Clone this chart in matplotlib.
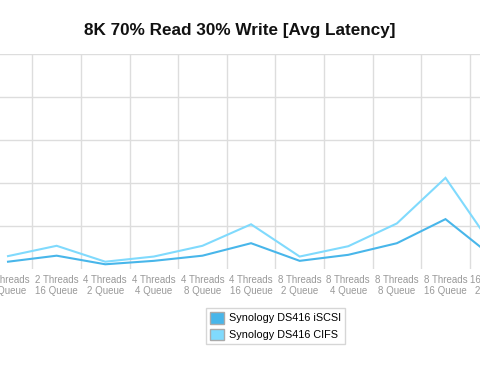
import numpy as np
import matplotlib
matplotlib.use("Agg")
import matplotlib.pyplot as plt
from matplotlib.patches import Patch

# categories visible in the (cropped) chart
categories = ["2 Threads\n8 Queue", "2 Threads\n16 Queue", "4 Threads\n2 Queue",
              "4 Threads\n4 Queue", "4 Threads\n8 Queue", "4 Threads\n16 Queue",
              "8 Threads\n2 Queue", "8 Threads\n4 Queue", "8 Threads\n8 Queue",
              "8 Threads\n16 Queue", "16 Threads\n2 Queue"]

# avg latency (ms)
iscsi = [1.7, 3.1, 1.1, 1.9, 3.1, 6.0, 1.9, 3.3, 6.0, 11.6, 2.6]
cifs = [3.0, 5.4, 1.7, 2.9, 5.4, 10.4, 2.9, 5.3, 10.6, 21.2, 4.8]

c_iscsi = "#48b6ea"
c_cifs = "#80dafd"

plt.rcParams['font.family'] = ['Liberation Sans', 'DejaVu Sans']

fig = plt.figure(figsize=(4.8, 3.71), dpi=100)
ax = fig.add_axes([0, 0.2749, 1, 0.5795])

x = np.arange(len(categories))
ax.plot(x, iscsi, color=c_iscsi, lw=1.5, solid_joinstyle='miter')
ax.plot(x, cifs, color=c_cifs, lw=1.5, solid_joinstyle='miter')

ax.set_xticks(x)
ax.set_xticklabels([])
ax.set_xticks(x + 0.5, minor=True)
ax.set_yticks([10, 20, 30, 40, 50])
ax.set_yticklabels([])
# the chart is cut off on both sides
ax.set_xlim(-0.165, 9.71)
ax.set_ylim(0, 50)
ax.tick_params(axis='both', which='both', length=0)
ax.grid(True, axis='y', color="#dddddd", lw=1)
ax.grid(True, axis='x', which='minor', color="#dddddd", lw=1)
for s in ax.spines.values():
    s.set_visible(False)

# category labels drawn by hand so the ones at the edges get cut like the original
for i, lab in enumerate(categories):
    ax.annotate(lab, xy=(i, 0), xycoords=ax.get_xaxis_transform(),
                xytext=(0, -4), textcoords='offset points', ha='center', va='top',
                fontsize=7.0, color="#999999", linespacing=1.15, annotation_clip=False)

fig.text(0.5, 0.917, "8K 70% Read 30% Write [Avg Latency]", ha='center', va='center',
         fontsize=12.3, fontweight='bold', color="#111111")

handles = [Patch(facecolor=c_iscsi, edgecolor="#aaaaaa", label="Synology DS416 iSCSI"),
           Patch(facecolor=c_cifs, edgecolor="#aaaaaa", label="Synology DS416 CIFS")]
fig.legend(handles=handles, loc='center', bbox_to_anchor=(0.574, 0.121), fontsize=7.8,
           frameon=True, fancybox=False, edgecolor="#cccccc", handlelength=1.3,
           handleheight=1.3, handletextpad=0.45, borderpad=0.35, labelspacing=0.45)

fig.savefig("out.png", dpi=100)
